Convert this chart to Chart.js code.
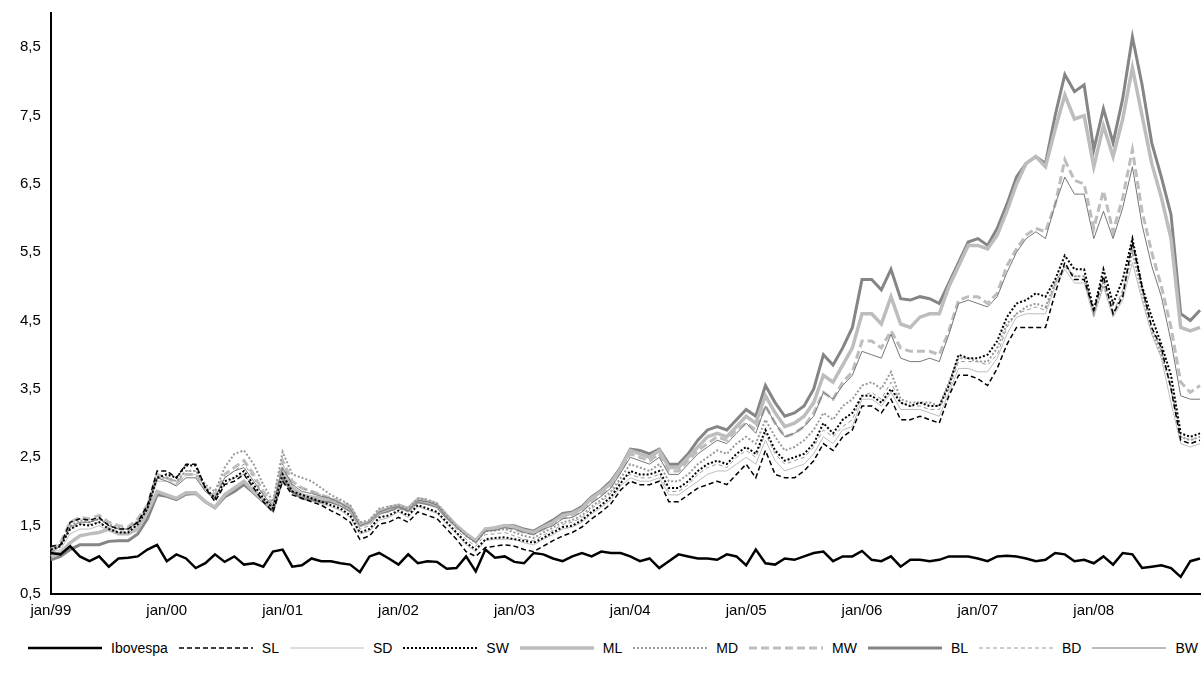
<!DOCTYPE html>
<html><head><meta charset="utf-8">
<script src="https://cdn.jsdelivr.net/npm/chart.js@4"></script>
<style>html,body{margin:0;padding:0;background:#fff;font-family:"Liberation Sans",Arial,sans-serif}
#w{width:1203px;height:622px}
#lg{display:flex;justify-content:space-between;align-items:center;width:1170px;margin:18px 0 0 28px;font-size:14px}
#lg span{display:flex;align-items:center;flex-shrink:0}#lg svg{margin-right:9px;flex-shrink:0}</style>
</head><body><div id="w"><canvas id="c"></canvas></div><div id="lg"></div>
<script>
const years=['99','00','01','02','03','04','05','06','07','08'];
const months=['jan','fev','mar','abr','mai','jun','jul','ago','set','out','nov','dez'];
const labels=[];years.forEach(y=>months.forEach(m=>labels.push(m+'/'+y)));

const IBOV=[1.1,1.08,1.2,1.05,0.98,1.05,0.9,1.02,1.03,1.05,1.15,1.22,
0.98,1.08,1.02,0.88,0.95,1.08,0.97,1.05,0.93,0.95,0.9,1.12,
1.15,0.9,0.92,1.02,0.98,0.98,0.95,0.93,0.82,1.05,1.1,1.02,
0.93,1.08,0.95,0.98,0.97,0.87,0.88,1.05,0.83,1.15,1.03,1.05,
0.97,0.95,1.1,1.08,1.02,0.98,1.05,1.1,1.05,1.12,1.1,1.1,
1.05,0.98,1.02,0.88,0.98,1.08,1.05,1.02,1.02,1.0,1.08,1.05,
0.92,1.15,0.95,0.93,1.02,1.0,1.05,1.1,1.12,0.98,1.05,1.05,
1.13,1.0,0.98,1.05,0.9,1.0,1.0,0.98,1.0,1.05,1.05,1.05,
1.02,0.98,1.05,1.06,1.05,1.02,0.98,1.0,1.1,1.08,0.98,1.0,
0.95,1.05,0.93,1.1,1.08,0.88,0.9,0.92,0.88,0.75,0.98,1.02];
const SL=[1.2,1.22,1.55,1.6,1.58,1.62,1.5,1.45,1.45,1.55,1.8,2.3,
2.3,2.2,2.4,2.4,2.05,1.85,2.1,2.15,2.25,2.05,1.85,1.7,
2.15,1.95,1.9,1.85,1.8,1.72,1.65,1.55,1.3,1.35,1.52,1.55,
1.62,1.55,1.7,1.65,1.6,1.45,1.3,1.12,1.05,1.18,1.2,1.22,
1.2,1.15,1.12,1.2,1.28,1.35,1.4,1.48,1.6,1.7,1.82,2.02,
2.15,2.1,2.1,2.15,1.85,1.85,1.95,2.05,2.1,2.15,2.1,2.25,
2.4,2.2,2.6,2.25,2.2,2.2,2.3,2.45,2.7,2.6,2.8,2.9,
3.25,3.25,3.15,3.35,3.05,3.05,3.1,3.05,3.0,3.4,3.7,3.7,
3.65,3.55,3.8,4.15,4.4,4.4,4.4,4.4,4.9,5.35,5.1,5.1,
4.65,5.15,4.6,4.85,5.65,5.0,4.4,4.1,3.5,2.75,2.7,2.75];
const SD=[1.1,1.15,1.38,1.45,1.45,1.5,1.42,1.38,1.38,1.5,1.72,2.15,
2.15,2.1,2.25,2.25,2.0,1.88,2.1,2.2,2.25,2.05,1.88,1.73,
2.2,1.98,1.92,1.88,1.82,1.78,1.72,1.62,1.38,1.42,1.58,1.62,
1.7,1.62,1.78,1.73,1.68,1.52,1.38,1.22,1.12,1.28,1.3,1.3,
1.3,1.25,1.22,1.3,1.37,1.45,1.48,1.55,1.67,1.77,1.88,2.08,
2.2,2.15,2.15,2.2,1.95,1.95,2.05,2.15,2.25,2.3,2.3,2.4,
2.5,2.4,2.75,2.45,2.3,2.35,2.4,2.55,2.8,2.7,2.9,2.95,
3.35,3.35,3.25,3.45,3.2,3.2,3.2,3.15,3.1,3.45,3.8,3.8,
3.75,3.75,3.95,4.3,4.55,4.6,4.6,4.6,5.0,5.25,5.05,5.05,
4.55,5.0,4.55,4.8,5.35,4.8,4.3,3.95,3.3,2.7,2.65,2.7];
const SW=[1.15,1.2,1.45,1.52,1.5,1.55,1.45,1.4,1.4,1.52,1.75,2.2,
2.25,2.2,2.38,2.38,2.05,1.9,2.15,2.2,2.3,2.1,1.9,1.75,
2.25,2.0,1.95,1.9,1.85,1.8,1.75,1.65,1.4,1.45,1.62,1.65,
1.72,1.65,1.8,1.75,1.7,1.55,1.4,1.25,1.15,1.3,1.32,1.33,
1.3,1.28,1.25,1.32,1.4,1.48,1.5,1.58,1.7,1.8,1.92,2.12,
2.3,2.25,2.25,2.3,2.05,2.05,2.15,2.3,2.4,2.45,2.4,2.55,
2.65,2.55,2.9,2.6,2.45,2.5,2.55,2.7,3.0,2.85,3.05,3.15,
3.4,3.4,3.3,3.5,3.3,3.25,3.3,3.25,3.25,3.55,4.0,3.95,
3.95,4.0,4.2,4.55,4.75,4.8,4.9,4.85,5.1,5.45,5.25,5.25,
4.65,5.25,4.75,5.1,5.7,5.0,4.55,4.15,3.7,2.85,2.8,2.85];
const ML=[1.05,1.1,1.25,1.35,1.38,1.4,1.45,1.38,1.38,1.45,1.7,2.0,
1.95,1.9,1.98,1.98,1.85,1.77,1.95,2.05,2.15,2.0,1.87,1.75,
2.3,2.05,1.95,1.92,1.9,1.88,1.82,1.75,1.5,1.55,1.7,1.75,
1.8,1.75,1.88,1.85,1.8,1.65,1.5,1.38,1.28,1.45,1.47,1.5,
1.48,1.43,1.4,1.48,1.55,1.65,1.68,1.75,1.9,2.0,2.12,2.33,
2.6,2.55,2.5,2.6,2.35,2.35,2.5,2.65,2.8,2.85,2.8,2.95,
3.1,3.0,3.4,3.15,2.95,3.0,3.1,3.3,3.7,3.6,3.85,4.1,
4.6,4.6,4.45,4.85,4.45,4.4,4.55,4.6,4.6,5.0,5.3,5.6,
5.6,5.55,5.75,6.1,6.5,6.8,6.9,6.75,7.3,7.8,7.45,7.5,
6.75,7.35,6.9,7.45,8.2,7.5,6.8,6.3,5.7,4.4,4.35,4.4];
const MD=[1.15,1.22,1.5,1.58,1.55,1.6,1.52,1.47,1.45,1.57,1.78,2.2,
2.2,2.15,2.3,2.3,2.1,2.0,2.35,2.55,2.6,2.4,2.1,1.85,
2.58,2.25,2.2,2.15,2.05,1.95,1.88,1.8,1.55,1.58,1.75,1.78,
1.8,1.75,1.9,1.88,1.82,1.65,1.48,1.35,1.25,1.42,1.43,1.45,
1.4,1.35,1.32,1.4,1.47,1.55,1.58,1.65,1.78,1.88,2.0,2.2,
2.4,2.35,2.3,2.4,2.15,2.15,2.25,2.4,2.5,2.6,2.55,2.7,
2.8,2.7,3.05,2.8,2.6,2.65,2.75,2.9,3.15,3.05,3.25,3.35,
3.55,3.6,3.5,3.75,3.35,3.3,3.3,3.3,3.25,3.6,3.95,3.95,
3.9,3.9,4.1,4.45,4.6,4.7,4.75,4.7,5.05,5.3,5.15,5.15,
4.6,5.05,4.6,4.9,5.5,4.9,4.35,4.0,3.55,2.8,2.75,2.8];
const MW=[1.15,1.25,1.55,1.62,1.6,1.65,1.55,1.5,1.48,1.6,1.8,2.25,
2.2,2.12,2.25,2.25,2.05,1.95,2.25,2.35,2.45,2.25,2.0,1.8,
2.45,2.15,2.05,2.0,1.95,1.9,1.85,1.78,1.52,1.57,1.72,1.77,
1.8,1.75,1.9,1.87,1.82,1.65,1.5,1.37,1.27,1.43,1.45,1.48,
1.45,1.4,1.38,1.45,1.52,1.62,1.65,1.72,1.85,1.95,2.08,2.3,
2.55,2.5,2.45,2.55,2.3,2.3,2.45,2.6,2.7,2.8,2.75,2.9,
3.0,2.9,3.25,3.0,2.8,2.85,2.95,3.15,3.45,3.35,3.6,3.75,
4.2,4.2,4.1,4.35,4.1,4.05,4.05,4.05,4.0,4.35,4.8,4.85,
4.85,4.75,4.9,5.3,5.55,5.75,5.85,5.8,6.2,6.85,6.55,6.5,
5.85,6.4,5.8,6.3,7.0,6.1,5.5,5.0,4.4,3.6,3.45,3.55];
const BL=[1.0,1.05,1.15,1.22,1.22,1.22,1.27,1.28,1.28,1.38,1.6,1.95,
1.93,1.88,1.96,1.97,1.85,1.76,1.92,2.0,2.1,1.98,1.85,1.72,
2.2,2.0,1.9,1.88,1.85,1.85,1.8,1.72,1.5,1.55,1.68,1.72,
1.78,1.72,1.85,1.82,1.78,1.62,1.5,1.38,1.28,1.45,1.45,1.5,
1.5,1.45,1.42,1.5,1.58,1.68,1.7,1.78,1.92,2.02,2.15,2.35,
2.62,2.6,2.55,2.62,2.4,2.4,2.55,2.75,2.9,2.95,2.9,3.05,
3.2,3.1,3.55,3.3,3.1,3.15,3.25,3.5,4.0,3.85,4.1,4.4,
5.1,5.1,4.95,5.25,4.82,4.8,4.85,4.82,4.75,5.05,5.35,5.65,
5.7,5.6,5.85,6.2,6.6,6.8,6.9,6.8,7.5,8.1,7.85,7.95,
7.0,7.6,7.1,7.75,8.65,7.95,7.1,6.6,6.05,4.6,4.5,4.65];
const BD=[1.12,1.2,1.45,1.52,1.52,1.55,1.47,1.42,1.42,1.52,1.75,2.2,
2.2,2.15,2.3,2.3,2.05,1.92,2.2,2.3,2.4,2.2,1.95,1.78,
2.4,2.1,2.05,2.0,1.95,1.88,1.82,1.72,1.45,1.5,1.68,1.7,
1.75,1.7,1.85,1.82,1.77,1.6,1.45,1.3,1.2,1.37,1.38,1.4,
1.35,1.3,1.28,1.36,1.43,1.52,1.55,1.62,1.75,1.85,1.97,2.17,
2.25,2.2,2.2,2.25,2.0,2.0,2.1,2.25,2.35,2.4,2.35,2.5,
2.6,2.5,2.85,2.55,2.4,2.45,2.5,2.65,2.9,2.8,2.95,3.05,
3.4,3.45,3.35,3.6,3.3,3.25,3.25,3.2,3.2,3.5,3.9,3.9,
3.9,3.85,4.0,4.4,4.6,4.65,4.7,4.65,5.05,5.3,5.15,5.15,
4.6,5.1,4.6,4.95,5.6,4.95,4.4,4.05,3.5,2.8,2.75,2.8];
const BW=[1.1,1.2,1.48,1.55,1.55,1.6,1.5,1.45,1.45,1.55,1.75,2.2,
2.15,2.08,2.2,2.2,2.0,1.9,2.2,2.3,2.35,2.15,1.95,1.78,
2.35,2.1,2.0,1.97,1.93,1.9,1.83,1.75,1.5,1.55,1.7,1.75,
1.78,1.72,1.87,1.85,1.8,1.62,1.48,1.35,1.25,1.42,1.43,1.47,
1.45,1.4,1.37,1.45,1.5,1.6,1.62,1.7,1.83,1.93,2.05,2.27,
2.5,2.45,2.4,2.5,2.25,2.25,2.4,2.55,2.65,2.75,2.7,2.85,
3.0,2.85,3.25,3.0,2.8,2.85,2.95,3.1,3.45,3.35,3.55,3.7,
4.05,4.0,3.95,4.3,3.95,3.9,3.9,3.95,3.9,4.3,4.75,4.8,
4.75,4.7,4.85,5.2,5.5,5.7,5.8,5.7,6.2,6.6,6.35,6.35,
5.7,6.1,5.7,6.15,6.75,5.9,5.3,4.85,4.2,3.4,3.35,3.35];

function ds(label,data,color,width,dash,order){return {label,data,borderColor:color,backgroundColor:'transparent',borderWidth:width,borderDash:dash,pointRadius:0,tension:0,order};}
const datasets=[
ds('Ibovespa',IBOV,'#000',2.5,[],0),
ds('SL',SL,'#000',1.5,[5,3],1),
ds('SD',SD,'#bdbdbd',1,[],9),
ds('SW',SW,'#000',2,[2,2],2),
ds('ML',ML,'#bdbdbd',3.5,[],7),
ds('MD',MD,'#9a9a9a',2,[2,2],4),
ds('MW',MW,'#bdbdbd',3,[8,4],6),
ds('BL',BL,'#858585',3,[],8),
ds('BD',BD,'#9a9a9a',1,[4,3],5),
ds('BW',BW,'#777',1,[],3)];

const lg=document.getElementById('lg');
datasets.forEach(d=>{const s=document.createElement('span');
s.innerHTML='<svg width="74" height="8"><line x1="0" y1="4" x2="74" y2="4" stroke="'+d.borderColor+'" stroke-width="'+d.borderWidth+'" stroke-dasharray="'+(d.borderDash.join(',')||'none')+'"/></svg>'+d.label;lg.appendChild(s);});

Chart.defaults.font.family='"Liberation Sans", Arial, sans-serif';
Chart.defaults.color='#000';
new Chart(document.getElementById('c'),{type:'line',data:{labels,datasets},
options:{responsive:true,maintainAspectRatio:false,animation:false,
layout:{padding:{top:8,right:3,left:16,bottom:0}},
plugins:{tooltip:{enabled:false},legend:{display:false}},
scales:{
x:{offset:false,grid:{display:false,drawTicks:true,tickLength:6,tickColor:c=>c.index%12===0?'#000':'rgba(0,0,0,0)',tickWidth:2},border:{color:'#000',width:2},
ticks:{autoSkip:false,maxRotation:0,font:{size:15},padding:2,callback(v,i){return i%12===0?labels[i]:'';}}},
y:{min:0.5,max:9.0,grid:{display:false,drawTicks:true,tickLength:6,tickWidth:2,tickColor:'#000'},border:{color:'#000',width:2},
ticks:{font:{size:15},padding:4,callback(v){return v.toFixed(1).replace('.',',');}},
afterBuildTicks(s){const t=[];for(let v=0.5;v<=8.5;v+=1)t.push({value:v});s.ticks=t;}}
}}});
</script></body></html>
